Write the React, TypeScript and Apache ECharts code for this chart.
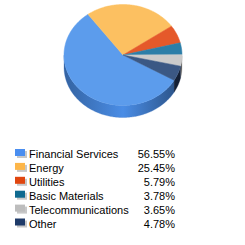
import React, { useEffect, useRef } from "react";
import * as echarts from "echarts";

const categories = ["Financial Services", "Energy", "Utilities", "Basic Materials", "Telecommunications", "Other"];
const values = [56.55, 25.45, 5.79, 3.78, 3.65, 4.78];
const labels = ["56.55%", "25.45%", "5.79%", "3.78%", "3.65%", "4.78%"];

const topColors = ["#5c9cec", "#fcc061", "#e5592a", "#2c7ea8", "#cbcbcb", "#3b5884"];
const wallColors = ["#4a8de6", "#e8a640", "#c04418", "#1d6288", "#a8a8a8", "#22375a"];
const legendColors = ["#4a8ef0", "#fdb649", "#e0460f", "#0f6a90", "#bdbdbd", "#1e3a68"];

function shade(hex: string, f: number) {
  const n = parseInt(hex.slice(1), 16);
  const r = Math.round(((n >> 16) & 255) * f);
  const g = Math.round(((n >> 8) & 255) * f);
  const b = Math.round((n & 255) * f);
  return `rgb(${Math.min(255, r)},${Math.min(255, g)},${Math.min(255, b)})`;
}

export default function App() {
  const ref = useRef<HTMLDivElement>(null);
  useEffect(() => {
    const chart = echarts.init(ref.current!, null, { renderer: "svg" });
    const total = values.reduce((a, b) => a + b, 0);
    const cumStart: number[] = [];
    let acc = 0;
    values.forEach((v) => {
      cumStart.push(acc);
      acc += v;
    });
    const cx = 123, cy = 55, rx = 59, ry = 50.5, depth = 12;
    const startAngle = -30;
    const pt = (a: number, dy = 0) => {
      const r = (a * Math.PI) / 180;
      return [cx + rx * Math.cos(r), cy - ry * Math.sin(r) + dy];
    };

    const renderItem = (params: any, api: any) => {
      const i = params.dataIndex;
      const v = api.value(0);
      const a0 = startAngle - (cumStart[i] / total) * 360;
      const a1 = a0 - (v / total) * 360;
      const steps = Math.max(2, Math.ceil((a0 - a1) / 1));
      const arc: number[][] = [];
      const angs: number[] = [];
      for (let s = 0; s <= steps; s++) {
        const a = a0 - ((a0 - a1) * s) / steps;
        angs.push(a);
        arc.push(pt(a));
      }
      const children: any[] = [];
      let seg: number[] = [];
      const segs: number[][] = [];
      angs.forEach((a) => {
        const sn = Math.sin((a * Math.PI) / 180);
        if (sn <= 0.0001) seg.push(a);
        else {
          if (seg.length > 1) segs.push(seg);
          seg = [];
        }
      });
      if (seg.length > 1) segs.push(seg);
      const wc = wallColors[i];
      segs.forEach((sg) => {
        const top = sg.map((a) => pt(a));
        const bot = sg.map((a) => pt(a, depth)).reverse();
        children.push({
          type: "polygon",
          z2: 1,
          shape: { points: top.concat(bot) },
          style: {
            fill: new echarts.graphic.LinearGradient(
              cx - rx, 0, cx + rx, 0,
              [
                { offset: 0, color: shade(wc, 0.7) },
                { offset: 0.5, color: shade(wc, 1.0) },
                { offset: 1, color: shade(wc, 0.55) },
              ],
              true
            ),
            stroke: shade(wc, 0.85),
            lineWidth: 0.3,
          },
        });
      });
      children.push({
        type: "polygon",
        z2: 2,
        shape: { points: [[cx, cy]].concat(arc) },
        style: { fill: topColors[i], stroke: topColors[i], lineWidth: 0.5 },
      });
      return { type: "group", children };
    };

    const graphics: any[] = [];
    categories.forEach((name, i) => {
      const yc = 154 + i * 13.9;
      graphics.push({
        type: "rect",
        shape: { x: 17, y: yc - 3, width: 10, height: 7 },
        style: { fill: "#c8c8c8" },
      });
      graphics.push({
        type: "rect",
        shape: { x: 15, y: yc - 5, width: 10, height: 7 },
        style: { fill: legendColors[i] },
      });
      graphics.push({
        type: "text",
        x: 29,
        y: yc,
        style: {
          text: name,
          fill: "#000000",
          font: "11px 'Liberation Sans', Arial, sans-serif",
          verticalAlign: "middle",
        },
      });
      graphics.push({
        type: "text",
        x: 175,
        y: yc,
        style: {
          text: labels[i],
          fill: "#000000",
          font: "11px 'Liberation Sans', Arial, sans-serif",
          align: "right",
          verticalAlign: "middle",
        },
      });
    });

    chart.setOption({
      animation: false,
      backgroundColor: "#ffffff",
      series: [
        {
          type: "custom",
          coordinateSystem: "none",
          silent: true,
          data: values.map((v, i) => [v, i]),
          renderItem,
        },
      ],
      graphic: graphics,
    });
    return () => chart.dispose();
  }, []);
  return <div ref={ref} style={{ position: "fixed", left: 0, top: 0, width: 245, height: 245 }} />;
}
